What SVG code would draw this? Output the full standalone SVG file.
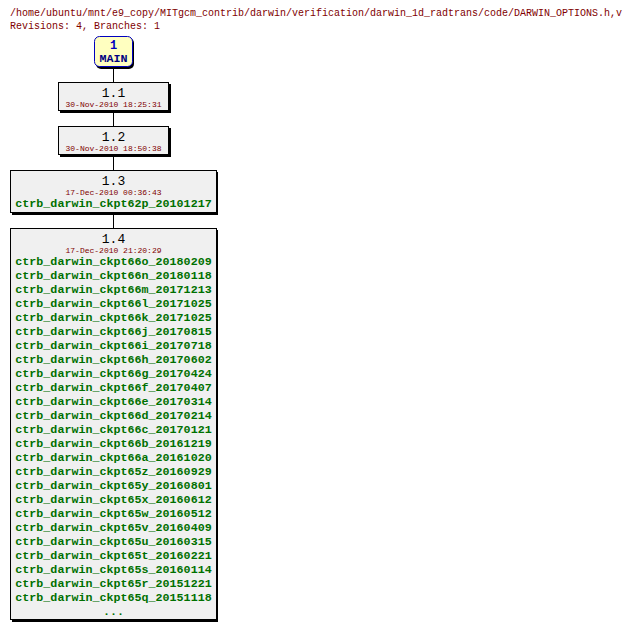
<svg xmlns="http://www.w3.org/2000/svg" width="632" height="631" viewBox="0 0 632 631">
<style>
text{font-family:"Liberation Mono","DejaVu Sans Mono",monospace;text-anchor:middle}
.hd{fill:#800000;font-size:10px;text-anchor:start}
.box{fill:#f0f0f0;stroke:#000;stroke-width:1}
.sh{fill:#000}
.rev{font-size:13px;fill:#000}
.dt{font-size:8px;fill:#800000}
.tag{font-size:11.7px;fill:#007000;font-weight:bold}
.ln{stroke:#000;stroke-width:1}
</style>
<rect width="632" height="631" fill="#fff"/>
<text class="hd" x="10" y="16" textLength="612" lengthAdjust="spacingAndGlyphs">/home/ubuntu/mnt/e9_copy/MITgcm_contrib/darwin/verification/darwin_1d_radtrans/code/DARWIN_OPTIONS.h,v</text>
<text class="hd" x="10" y="29">Revisions: 4, Branches: 1</text>
<g id="connectors">
<line class="ln" x1="113.5" y1="67" x2="113.5" y2="82"/>
<line class="ln" x1="113.5" y1="111" x2="113.5" y2="126"/>
<line class="ln" x1="113.5" y1="155" x2="113.5" y2="170"/>
<line class="ln" x1="113.5" y1="213" x2="113.5" y2="228"/>
</g>
<g id="main">
<rect x="96" y="38" width="38" height="31" rx="5" fill="#000"/>
<rect x="94.5" y="36.5" width="38" height="30" rx="5" fill="#ffffc0" stroke="#0000c0"/>
<text x="113.5" y="49" font-size="12px" font-weight="bold" fill="#0000c0">1</text>
<text x="113.5" y="62" font-size="11.7px" font-weight="bold" fill="#000080">MAIN</text>
</g>
<g id="r1_1">
<rect class="sh" x="60" y="84" width="111" height="29"/>
<rect class="box" x="58.5" y="82.5" width="110" height="28"/>
<text class="rev" x="113.5" y="97">1.1</text>
<text class="dt" x="113.5" y="107">30-Nov-2010 18:25:31</text>
</g>
<g id="r1_2">
<rect class="sh" x="60" y="128" width="111" height="29"/>
<rect class="box" x="58.5" y="126.5" width="110" height="28"/>
<text class="rev" x="113.5" y="141">1.2</text>
<text class="dt" x="113.5" y="151">30-Nov-2010 18:50:38</text>
</g>
<g id="r1_3">
<rect class="sh" x="12" y="172" width="206" height="43"/>
<rect class="box" x="10.5" y="170.5" width="206" height="42"/>
<text class="rev" x="113.5" y="185">1.3</text>
<text class="dt" x="113.5" y="195">17-Dec-2010 00:36:43</text>
<text class="tag" x="113.5" y="207">ctrb_darwin_ckpt62p_20101217</text>
</g>
<g id="r1_4">
<rect class="sh" x="12" y="230" width="206" height="392"/>
<rect class="box" x="10.5" y="228.5" width="206" height="391"/>
<text class="rev" x="113.5" y="243">1.4</text>
<text class="dt" x="113.5" y="253">17-Dec-2010 21:20:29</text>
<text class="tag" x="113.5" y="265">ctrb_darwin_ckpt66o_20180209</text>
<text class="tag" x="113.5" y="279">ctrb_darwin_ckpt66n_20180118</text>
<text class="tag" x="113.5" y="293">ctrb_darwin_ckpt66m_20171213</text>
<text class="tag" x="113.5" y="307">ctrb_darwin_ckpt66l_20171025</text>
<text class="tag" x="113.5" y="321">ctrb_darwin_ckpt66k_20171025</text>
<text class="tag" x="113.5" y="335">ctrb_darwin_ckpt66j_20170815</text>
<text class="tag" x="113.5" y="349">ctrb_darwin_ckpt66i_20170718</text>
<text class="tag" x="113.5" y="363">ctrb_darwin_ckpt66h_20170602</text>
<text class="tag" x="113.5" y="377">ctrb_darwin_ckpt66g_20170424</text>
<text class="tag" x="113.5" y="391">ctrb_darwin_ckpt66f_20170407</text>
<text class="tag" x="113.5" y="405">ctrb_darwin_ckpt66e_20170314</text>
<text class="tag" x="113.5" y="419">ctrb_darwin_ckpt66d_20170214</text>
<text class="tag" x="113.5" y="433">ctrb_darwin_ckpt66c_20170121</text>
<text class="tag" x="113.5" y="447">ctrb_darwin_ckpt66b_20161219</text>
<text class="tag" x="113.5" y="461">ctrb_darwin_ckpt66a_20161020</text>
<text class="tag" x="113.5" y="475">ctrb_darwin_ckpt65z_20160929</text>
<text class="tag" x="113.5" y="489">ctrb_darwin_ckpt65y_20160801</text>
<text class="tag" x="113.5" y="503">ctrb_darwin_ckpt65x_20160612</text>
<text class="tag" x="113.5" y="517">ctrb_darwin_ckpt65w_20160512</text>
<text class="tag" x="113.5" y="531">ctrb_darwin_ckpt65v_20160409</text>
<text class="tag" x="113.5" y="545">ctrb_darwin_ckpt65u_20160315</text>
<text class="tag" x="113.5" y="559">ctrb_darwin_ckpt65t_20160221</text>
<text class="tag" x="113.5" y="573">ctrb_darwin_ckpt65s_20160114</text>
<text class="tag" x="113.5" y="587">ctrb_darwin_ckpt65r_20151221</text>
<text class="tag" x="113.5" y="601">ctrb_darwin_ckpt65q_20151118</text>
<text class="tag" x="113.5" y="615">...</text>
</g>
</svg>
